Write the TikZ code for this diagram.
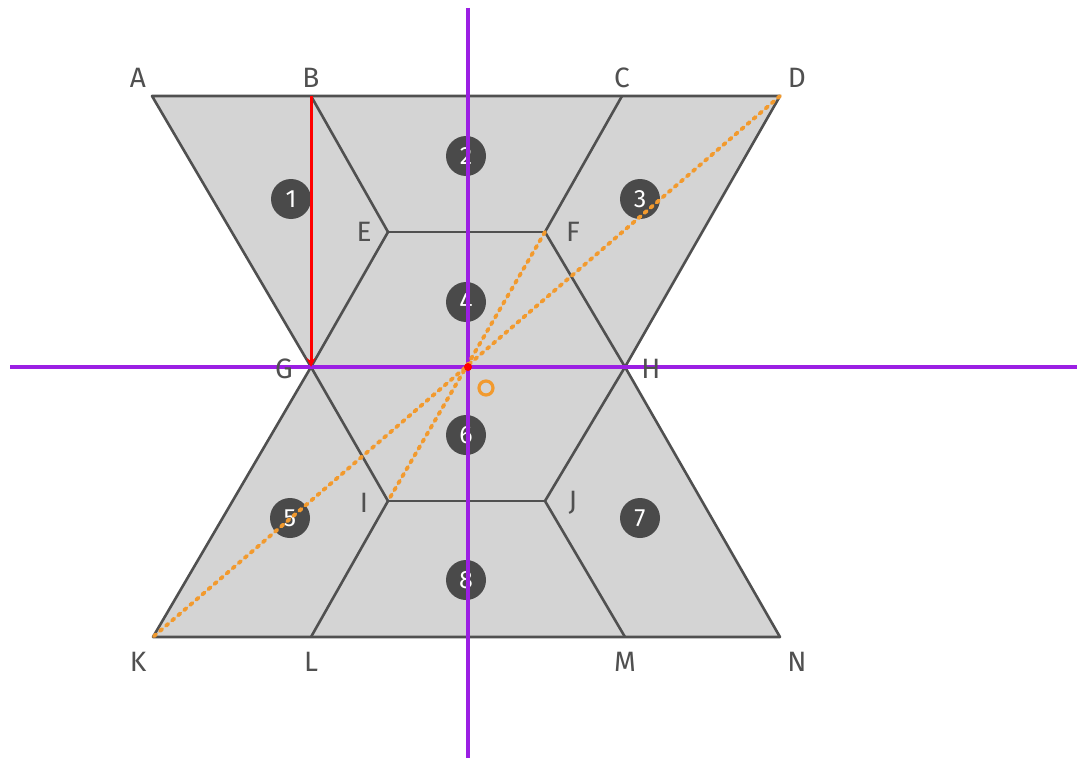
\documentclass[tikz,border=0pt]{standalone}
\usepackage{fontspec}
\setmainfont{Fira Sans}
\usetikzlibrary{arrows.meta}
\definecolor{fillgray}{HTML}{D4D4D4}
\definecolor{edgegray}{HTML}{505050}
\definecolor{badge}{HTML}{4A4A4A}
\definecolor{axis}{HTML}{9B1FE3}
\definecolor{dotorange}{HTML}{F29A2E}
\begin{document}
\begin{tikzpicture}[x=1pt,y=-1pt,
  edge/.style={draw=edgegray,line width=2.6pt},
  axisline/.style={draw=axis,line width=3.6pt},
  dotline/.style={draw=dotorange,line width=3.8pt,dash pattern=on 3pt off 5pt,line cap=round},
  badgenode/.style={circle,fill=badge,minimum size=40pt,inner sep=0pt,text=white,font=\fontsize{25}{27}\selectfont},
  lbl/.style={text=edgegray,font=\fontsize{28}{31}\selectfont}]
\useasboundingbox (0,0) rectangle (1077,760);
% vertices
\coordinate (A) at (152,96);
\coordinate (B) at (311,96);
\coordinate (C) at (622,96);
\coordinate (D) at (780,96);
\coordinate (E) at (388,232);
\coordinate (F) at (545,232);
\coordinate (G) at (311,367);
\coordinate (H) at (625,367);
\coordinate (O) at (468,367);
\coordinate (I) at (388,501);
\coordinate (J) at (545,501);
\coordinate (K) at (153,637);
\coordinate (L) at (311,637);
\coordinate (M) at (625,637);
\coordinate (N) at (780,637);
\coordinate (Vt) at (468,8);
\coordinate (Vb) at (468,758);
\coordinate (Hl) at (10,367);
\coordinate (Hr) at (1077,367);
% shape
\fill[fillgray] (A) -- (D) -- (H) -- (N) -- (K) -- (G) -- cycle;
\draw[edge,line join=round] (A) -- (D) -- (H) -- (N) -- (K) -- (G) -- cycle;
\draw[edge] (B) -- (E) -- (G);
\draw[edge] (C) -- (F) -- (H);
\draw[edge] (E) -- (F);
\draw[edge] (G) -- (I) -- (L);
\draw[edge] (H) -- (J) -- (M);
\draw[edge] (I) -- (J);
% badges
\node[badgenode] (n1) at (291,199) {1};
\node[badgenode] (n2) at (466,156) {2};
\node[badgenode] (n3) at (640,199) {3};
\node[badgenode] (n4) at (466,302) {4};
\node[badgenode] (n5) at (290,518) {5};
\node[badgenode] (n6) at (466,435) {6};
\node[badgenode] (n7) at (640,518) {7};
\node[badgenode] (n8) at (466,580) {8};
% axes
\draw[axisline] (Vt) -- (Vb);
\draw[axisline] (Hl) -- (Hr);
% orange dotted diagonals
\draw[dotline] (D) -- (K);
\draw[dotline] (F) -- (I);
% red arrow
\draw[red,line width=3pt,-{Stealth[length=9pt,width=9pt]}] (B) -- (G);
\fill[red] (O) circle (4pt);
\draw[dotorange,line width=3.2pt] (486,388) circle (7pt);
% labels
\node[lbl] (lA) at (138,78) {A};
\node[lbl] (lB) at (311,78) {B};
\node[lbl] (lC) at (622,78) {C};
\node[lbl] (lD) at (797,78) {D};
\node[lbl] (lE) at (364,232) {E};
\node[lbl] (lF) at (573,232) {F};
\node[lbl] (lG) at (284,369) {G};
\node[lbl] (lH) at (651,369) {H};
\node[lbl] (lI) at (364,503) {I};
\node[lbl] (lJ) at (573,503) {J};
\node[lbl] (lK) at (138,662) {K};
\node[lbl] (lL) at (311,662) {L};
\node[lbl] (lM) at (625,662) {M};
\node[lbl] (lN) at (797,662) {N};
\end{tikzpicture}
\end{document}
